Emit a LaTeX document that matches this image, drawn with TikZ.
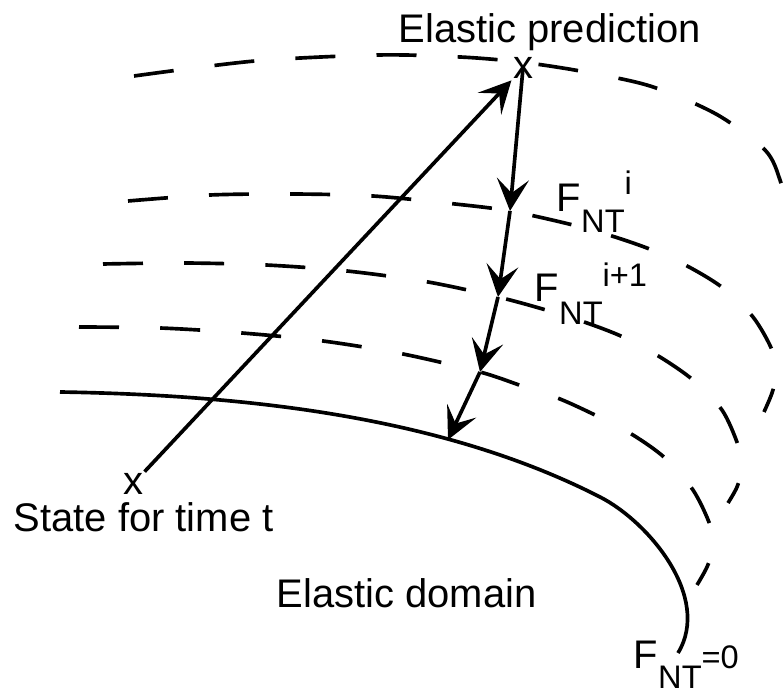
\documentclass[tikz,border=0pt]{standalone}
\usepackage{fontspec}
\setmainfont{Liberation Sans}
\usepackage{tikz}
\usetikzlibrary{arrows.meta}
\newcommand{\labelsize}{\fontsize{28.4}{34}\selectfont}
\newcommand{\subsize}{\fontsize{23.2}{28}\selectfont}
\newcommand{\fnt}[3]{F\raisebox{-#1}{\subsize NT}\raisebox{#2}{\subsize #3}}

\begin{document}
\begin{tikzpicture}[line width=2.6pt,
  lbl/.style={anchor=base west,inner sep=0pt,font=\labelsize},
  xmark/.style={inner sep=0pt,font=\labelsize},
  level/.style={dash pattern=on 1cm off 1.03cm},
  arr/.style={-{Stealth[length=0.8cm,width=0.8cm,inset=0.35cm]}}]
\useasboundingbox (0,0) rectangle (19.6,17.325);
\clip (0,0) rectangle (19.6,17.325);
% yield surfaces
\draw[level] plot[smooth] coordinates {(3.35,15.425) (6.375,15.8) (9.45,15.95) (11.5,15.9) (13.0,15.775) (14.5,15.55) (16.25,15.175) (17.9,14.475) (19.125,13.575) (19.5,12.825) (19.7,11.95) (19.725,11.075) (19.8,9.825)};
\draw[level] plot[smooth] coordinates {(3.2,12.3) (5.25,12.45) (7.3,12.475) (9.325,12.425) (11.375,12.225) (12.75,12.05) (14.325,11.7) (15.375,11.4) (16.3,11.075) (17.225,10.65) (18.075,10.125) (18.825,9.4) (19.3,8.575) (19.4,7.95) (19.3,7.5) (19.1,7.025)};
\draw[level] plot[smooth] coordinates {(2.575,10.725) (4.6,10.75) (6.65,10.7) (8.675,10.55) (10.7,10.275) (12.45,9.9) (13.65,9.575) (14.675,9.25) (15.575,8.9) (16.5,8.4) (17.325,7.825) (18.05,7.075) (18.45,6.2) (18.55,5.625) (18.425,5.15) (18.2,4.75)};
\draw[level] plot[smooth] coordinates {(1.975,9.15) (4.0,9.125) (6.05,9.0) (8.075,8.8) (10.075,8.475) (12.0,8.025) (13.05,7.675) (14.0,7.35) (14.925,6.925) (15.825,6.45) (16.625,5.875) (17.325,5.075) (17.75,4.2) (17.825,3.625) (17.675,3.15) (17.425,2.7)};
\draw (1.5,7.525) .. controls (6,7.45) and (11,6.95) .. (15.0,4.9)
  .. controls (16.2,4.29) and (17.8,2.4) .. (16.95,1.0);
% states
\node[xmark] (pred) at (13.075,15.625) {x};
\node[xmark] (state) at (3.325,5.225) {x};
\coordinate (it1) at (12.75,12.05);
\coordinate (it2) at (12.45,9.9);
\coordinate (it3) at (12.0,8.025);
\coordinate (it4) at (11.2,6.33);
\draw[arr] (state) -- (pred);
\draw[arr] (pred.center) -- (it1);
\draw[arr] (it1) -- (it2);
\draw[arr] (it2) -- (it3);
\draw[arr] (it3) -- (it4);
% labels
\node[lbl] (predlbl) at (9.925,16.25) {Elastic prediction};
\node[lbl] (statelbl) at (0.3,4.025) {State for time t};
\node[lbl] (domlbl) at (6.875,2.125) {Elastic domain};
\node[lbl] (fi) at (13.875,12.025) {\fnt{0.525cm}{0.425cm}{i}};
\node[lbl] (fii) at (13.325,9.775) {\fnt{0.575cm}{0.375cm}{i+1}};
\node[lbl] (fzero) at (15.8,0.6) {\fnt{0.5cm}{0cm}{=0}};
\end{tikzpicture}
\end{document}
